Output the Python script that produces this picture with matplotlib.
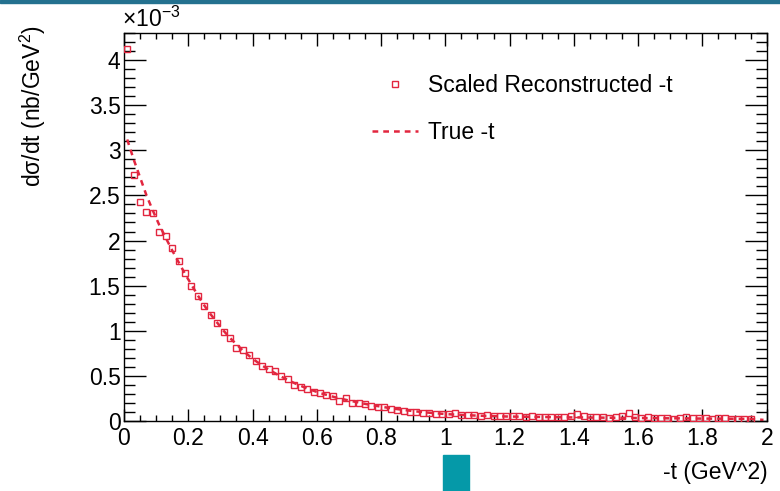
import matplotlib
matplotlib.use("Agg")
import matplotlib.pyplot as plt
from matplotlib.patches import Rectangle
from matplotlib.ticker import MultipleLocator
import numpy as np

plt.rcParams['font.family'] = ['Liberation Sans', 'DejaVu Sans']
plt.rcParams['mathtext.fontset'] = 'custom'
plt.rcParams['mathtext.rm'] = 'Liberation Sans'
plt.rcParams['mathtext.it'] = 'Liberation Sans:italic'

# bin centres of -t (GeV^2)
t_reco = [0.01, 0.03, 0.05, 0.07, 0.09, 0.11, 0.13, 0.15, 0.17, 0.19,
          0.21, 0.23, 0.25, 0.27, 0.29, 0.31, 0.33, 0.35, 0.37, 0.39,
          0.41, 0.43, 0.45, 0.47, 0.49, 0.51, 0.53, 0.55, 0.57, 0.59,
          0.61, 0.63, 0.65, 0.67, 0.69, 0.71, 0.73, 0.75, 0.77, 0.79,
          0.81, 0.83, 0.85, 0.87, 0.89, 0.91, 0.93, 0.95, 0.97, 0.99,
          1.01, 1.03, 1.05, 1.07, 1.09, 1.11, 1.13, 1.15, 1.17, 1.19,
          1.21, 1.23, 1.25, 1.27, 1.29, 1.31, 1.33, 1.35, 1.37, 1.39,
          1.41, 1.43, 1.45, 1.47, 1.49, 1.51, 1.53, 1.55, 1.57, 1.59,
          1.61, 1.63, 1.65, 1.67, 1.69, 1.71, 1.73, 1.75, 1.77, 1.79,
          1.81, 1.83, 1.85, 1.87, 1.89, 1.91, 1.93, 1.95]
# scaled reconstructed dsigma/dt (units of 1e-3 nb/GeV^2)
reco_vals = [4.12, 2.73, 2.43, 2.32, 2.30, 2.10, 2.05, 1.92, 1.77, 1.64,
             1.50, 1.38, 1.27, 1.18, 1.09, 0.99, 0.92, 0.81, 0.79, 0.73,
             0.665, 0.61, 0.58, 0.555, 0.50, 0.46, 0.40, 0.38, 0.35, 0.32,
             0.31, 0.29, 0.28, 0.22, 0.25, 0.20, 0.195, 0.185, 0.17, 0.16,
             0.15, 0.13, 0.12, 0.115, 0.10, 0.10, 0.09, 0.085, 0.08, 0.08,
             0.08, 0.085, 0.065, 0.065, 0.065, 0.060, 0.062, 0.058, 0.055, 0.052,
             0.050, 0.052, 0.048, 0.050, 0.045, 0.047, 0.044, 0.040, 0.045, 0.050,
             0.080, 0.055, 0.045, 0.040, 0.042, 0.038, 0.045, 0.050, 0.085, 0.040,
             0.030, 0.045, 0.035, 0.030, 0.038, 0.025, 0.035, 0.045, 0.030, 0.028,
             0.035, 0.020, 0.030, 0.028, 0.020, 0.025, 0.022, 0.025]

t_true = [0.01, 0.03, 0.05, 0.07, 0.09, 0.11, 0.13, 0.15, 0.17, 0.19,
          0.21, 0.23, 0.25, 0.27, 0.29, 0.31, 0.33, 0.35, 0.37, 0.39,
          0.41, 0.43, 0.45, 0.47, 0.49, 0.51, 0.53, 0.55, 0.57, 0.59,
          0.61, 0.63, 0.65, 0.67, 0.69, 0.71, 0.73, 0.75, 0.77, 0.79,
          0.81, 0.83, 0.85, 0.87, 0.89, 0.91, 0.93, 0.95, 0.97, 0.99,
          1.01, 1.03, 1.05, 1.07, 1.09, 1.11, 1.13, 1.15, 1.17, 1.19,
          1.21, 1.23, 1.25, 1.27, 1.29, 1.31, 1.33, 1.35, 1.37, 1.39,
          1.41, 1.43, 1.45, 1.47, 1.49, 1.51, 1.53, 1.55, 1.57, 1.59,
          1.61, 1.63, 1.65, 1.67, 1.69, 1.71, 1.73, 1.75, 1.77, 1.79,
          1.81, 1.83, 1.85, 1.87, 1.89, 1.91, 1.93, 1.95, 1.97, 1.99]
true_vals = [3.12, 2.90, 2.70, 2.50, 2.33, 2.17, 2.03, 1.89, 1.76, 1.63,
             1.51, 1.39, 1.28, 1.18, 1.09, 1.00, 0.92, 0.85, 0.78, 0.72,
             0.665, 0.615, 0.57, 0.53, 0.49, 0.455, 0.42, 0.39, 0.36, 0.335,
             0.31, 0.29, 0.27, 0.25, 0.235, 0.22, 0.205, 0.19, 0.177, 0.165,
             0.153, 0.142, 0.132, 0.123, 0.114, 0.106, 0.099, 0.092, 0.086, 0.080,
             0.075, 0.071, 0.067, 0.064, 0.061, 0.058, 0.056, 0.054, 0.052, 0.050,
             0.049, 0.048, 0.047, 0.046, 0.045, 0.044, 0.043, 0.042, 0.041, 0.040,
             0.040, 0.039, 0.038, 0.038, 0.037, 0.036, 0.036, 0.035, 0.034, 0.034,
             0.033, 0.032, 0.032, 0.031, 0.030, 0.030, 0.029, 0.029, 0.028, 0.027,
             0.027, 0.026, 0.026, 0.025, 0.025, 0.024, 0.024, 0.023, 0.018, 0.012]

labels = ["Scaled Reconstructed -t", "True -t"]
x_title = "-t (GeV^2)"
y_title = "d\u03c3/dt (nb/GeV$^{2}$)"
exp_label = "\u00d710$^{-3}$"

red = '#e2263f'
fs = 16.5

fig = plt.figure(figsize=(7.8, 4.91), dpi=100)
ax = fig.add_axes([124/780, 1-421/491, (766.7-124)/780, (421-33)/491])

ax.plot(t_reco, reco_vals, linestyle='none', marker='s', markersize=4.8,
        markerfacecolor='none', markeredgecolor=red, markeredgewidth=1.0,
        label=labels[0], zorder=3)
ax.plot(t_true, true_vals, linestyle=(0, (2.3, 2.0)), color=red, linewidth=1.8,
        label=labels[1], zorder=2)

ax.set_xlim(0, 2)
ax.set_ylim(0, 4.3)

ax.xaxis.set_minor_locator(MultipleLocator(0.05))
ax.yaxis.set_minor_locator(MultipleLocator(0.1))

ax.set_xticks(np.arange(0, 2.01, 0.2))
ax.set_xticklabels(["0", "0.2", "0.4", "0.6", "0.8", "1", "1.2", "1.4", "1.6", "1.8", "2"])
ax.set_yticks(np.arange(0, 4.01, 0.5))
ax.set_yticklabels(["0", "0.5", "1", "1.5", "2", "2.5", "3", "3.5", "4"])

ax.tick_params(axis='x', which='major', direction='in', length=9, width=1,
               top=True, bottom=True, labelsize=fs, pad=4)
ax.tick_params(axis='x', which='minor', direction='in', length=4.5, width=1,
               top=True, bottom=True)
ax.tick_params(axis='y', which='major', direction='in', length=16, width=1,
               left=True, right=True, labelsize=fs, pad=2.5)
ax.tick_params(axis='y', which='minor', direction='in', length=8, width=1,
               left=True, right=True)
for s in ax.spines.values():
    s.set_linewidth(1.0)

leg = ax.legend(loc='upper left', bbox_to_anchor=(372/780, 1-74/491),
                bbox_transform=fig.transFigure, frameon=False, fontsize=fs,
                handlelength=2.0, handletextpad=0.45, labelspacing=1.05,
                borderpad=0, borderaxespad=0)

fig.text(122/780, 1-32/491, exp_label, fontsize=fs, ha='left', va='bottom')
fig.text(33/780, 1-25/491, y_title, fontsize=fs, rotation=90, ha='center', va='top')
fig.text(768/780, 1-473/491, x_title, fontsize=fs, ha='right', va='center')

# decorative page elements
fig.patches.append(Rectangle((0, 1-2.5/491), 1, 2.5/491, transform=fig.transFigure,
                             color='#24718f', zorder=5))
fig.patches.append(Rectangle((443/780, 0), 26/780, 36/491, transform=fig.transFigure,
                             color='#0599a8', zorder=5))

fig.savefig("out.png", dpi=100)
